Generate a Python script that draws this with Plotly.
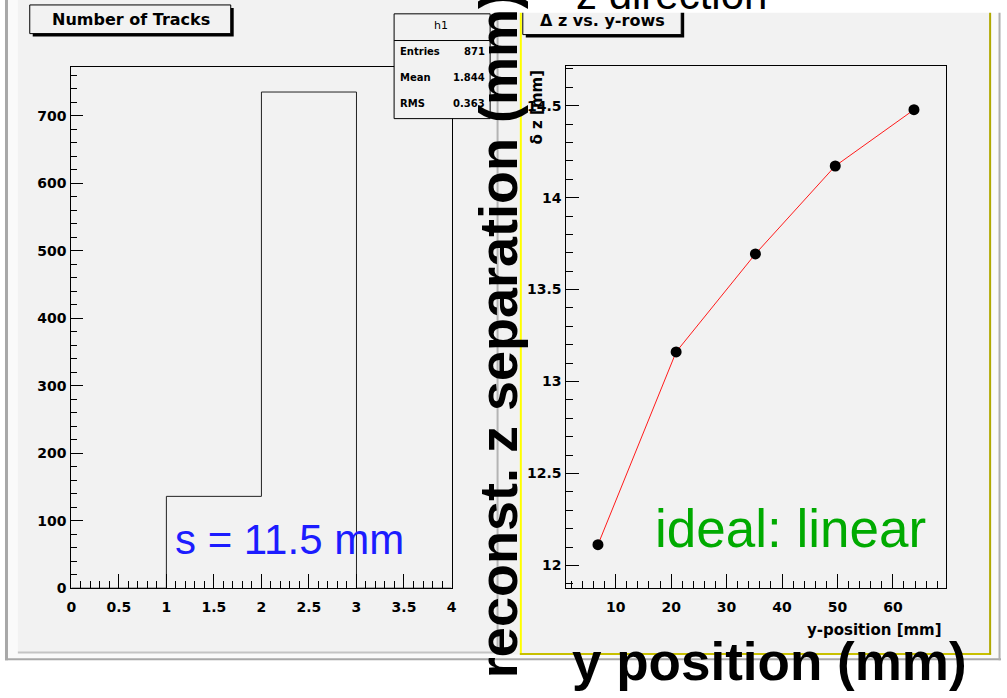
import plotly.graph_objects as go

W, H = 1007, 698

# Histogram: number of tracks per event
bin_edges = [0, 1, 2, 3, 4]
track_counts = [0, 136, 735, 0]
stats_name = "h1"
stats_labels = ["Entries", "Mean", "RMS"]
stats_values = ["871", "1.844", "0.363"]

# Reconstructed z separation vs. y-row position
y_positions = [6.8, 20.9, 35.2, 49.6, 63.8]
dz_values = [12.113, 13.161, 13.694, 14.172, 14.478]


def px(x):
    return x / W


def py(y):
    return 1 - y / H


ROOT_FONT = "DejaVu Sans"
SLIDE_FONT = "Liberation Sans"
PAD = "#f2f2f2"

fig = go.Figure()

# left pad: histogram outline
fig.add_trace(go.Scatter(
    x=bin_edges, y=track_counts + [track_counts[-1]],
    mode="lines", line=dict(color="#222222", width=1, shape="hv"),
    xaxis="x", yaxis="y", showlegend=False, hoverinfo="skip",
))

# right pad: graph
fig.add_trace(go.Scatter(
    x=y_positions, y=dz_values, mode="lines+markers",
    line=dict(color="#ff1a1a", width=1),
    marker=dict(color="black", size=11),
    xaxis="x2", yaxis="y2", showlegend=False, hoverinfo="skip",
))

ymax_hist = max(track_counts) * 1.05
xspan = max(y_positions) - min(y_positions)
yspan = max(dz_values) - min(dz_values)

tickfont = dict(family=ROOT_FONT, size=14, color="black", weight="bold")


def axis_common(**kw):
    d = dict(showline=True, linecolor="black", linewidth=1, mirror=True,
             ticks="inside", tickcolor="black", tickwidth=1,
             showgrid=False, zeroline=False, tickfont=tickfont)
    d.update(kw)
    return d


fig.update_layout(
    width=W, height=H, autosize=False,
    margin=dict(l=0, r=0, t=0, b=0),
    paper_bgcolor="white", plot_bgcolor="rgba(0,0,0,0)",
    xaxis=axis_common(domain=[px(67), px(451)], range=[0, 4], dtick=0.5, tick0=0,
                      ticklen=14, ticklabelstandoff=6,
                      minor=dict(ticks="inside", ticklen=7, dtick=0.1, tick0=0,
                                 tickcolor="black", tickwidth=1),
                      anchor="y"),
    yaxis=axis_common(domain=[py(595), py(68)], range=[0, ymax_hist], dtick=100, tick0=0,
                      ticklen=12, ticklabelstandoff=1,
                      minor=dict(ticks="inside", ticklen=6, dtick=20, tick0=0,
                                 tickcolor="black", tickwidth=1),
                      anchor="x"),
    xaxis2=axis_common(domain=[px(567), px(950)],
                       range=[min(y_positions) - 0.1 * xspan, max(y_positions) + 0.1 * xspan],
                       dtick=10, tick0=0, ticklen=14, ticklabelstandoff=6,
                       minor=dict(ticks="inside", ticklen=7, dtick=2, tick0=0,
                                  tickcolor="black", tickwidth=1),
                       anchor="y2"),
    yaxis2=axis_common(domain=[py(595), py(67)],
                       range=[min(dz_values) - 0.1 * yspan, max(dz_values) + 0.1 * yspan],
                       dtick=0.5, tick0=0, ticklen=13, ticklabelstandoff=1,
                       minor=dict(ticks="inside", ticklen=7, dtick=0.1, tick0=0,
                                  tickcolor="black", tickwidth=1),
                       anchor="x2"),
)

shapes = []


def rect(x0, y0, x1, y1, fill, line_color=None, width=0, layer="below"):
    shapes.append(dict(type="rect", xref="paper", yref="paper",
                       x0=px(x0), x1=px(x1), y0=py(y1), y1=py(y0),
                       fillcolor=fill,
                       line=dict(color=line_color or fill, width=width),
                       layer=layer))


def line(x0, y0, x1, y1, color, width=1, layer="below"):
    shapes.append(dict(type="line", xref="paper", yref="paper",
                       x0=px(x0), x1=px(x1), y0=py(y0), y1=py(y1),
                       line=dict(color=color, width=width), layer=layer))


# canvas and pads
rect(0, 0, 1006, 668, "#fafafa")
line(1.5, 0, 1.5, 668, "#a8a8a8", 3)
line(0, 667, 1006, 667, "#a8a8a8", 2)
line(1004.5, 0, 1004.5, 668, "#b0b0b0", 2)
rect(13, 0, 499, 660, PAD)
line(13, 660, 499, 660, "#c4c4c4", 2)
line(497.5, 0, 497.5, 660, "#b4b4b4", 2)
rect(499, 0, 520, 662, PAD)
rect(520, 0, 996, 662, PAD)
line(521, 0, 521, 662, "#ffff00", 2)
line(520, 661.5, 996, 661.5, "#c8c000", 2)
line(995, 0, 995, 662, "#b0a800", 2)

# title boxes with drop shadow
for (x0, y0, x1, y1) in [(25, 5, 228, 34), (523, 5, 683, 35)]:
    rect(x0 + 3, y0 + 3, x1 + 3, y1 + 3, "black", layer="above")
    rect(x0, y0, x1, y1, PAD, "black", 1, layer="above")

# statistics box
rect(393, 14, 490, 120, PAD, "black", 1, layer="above")
line(393, 41, 490, 41, "black", 1, layer="above")

# white strip along the top right
rect(490, -5, 1007, 13, "white", layer="above")

fig.update_layout(shapes=shapes)

ann = []


def text(x, y, s, size, family=ROOT_FONT, color="black", weight="normal",
         xanchor="center", yanchor="middle", angle=0):
    ann.append(dict(xref="paper", yref="paper", x=px(x), y=py(y), text=s,
                    showarrow=False, xanchor=xanchor, yanchor=yanchor,
                    textangle=angle,
                    font=dict(family=family, size=size, color=color, weight=weight)))


text(127, 20, "Number of Tracks", 16, weight="bold")
text(603, 21, "Δ z vs. y-rows", 16, weight="bold")

text(440, 26, stats_name, 11)
for i, (lab, val) in enumerate(zip(stats_labels, stats_values)):
    yy = 52 + i * 26.5
    text(397, yy, lab, 10, weight="bold", xanchor="left")
    text(487, yy, val, 10, weight="bold", xanchor="right")

text(537, 109, "δ z [mm]", 15, weight="bold", angle=-90)
text(948, 637, "y-position [mm]", 15, weight="bold", xanchor="right")

# slide annotations
text(287, 546, "s = 11.5 mm", 42, family=SLIDE_FONT, color="#1c1cff")
text(793, 535, "ideal: linear", 53, family=SLIDE_FONT, color="#00aa00")
text(673, -6, "z direction", 42, family=SLIDE_FONT)
text(772, 669, "y position (mm)", 53, family=SLIDE_FONT, weight="bold")
text(498, 339, "reconst. z separation (mm)", 54, family=SLIDE_FONT, weight="bold", angle=-90)

fig.update_layout(annotations=ann)

fig.write_html("out.html")
